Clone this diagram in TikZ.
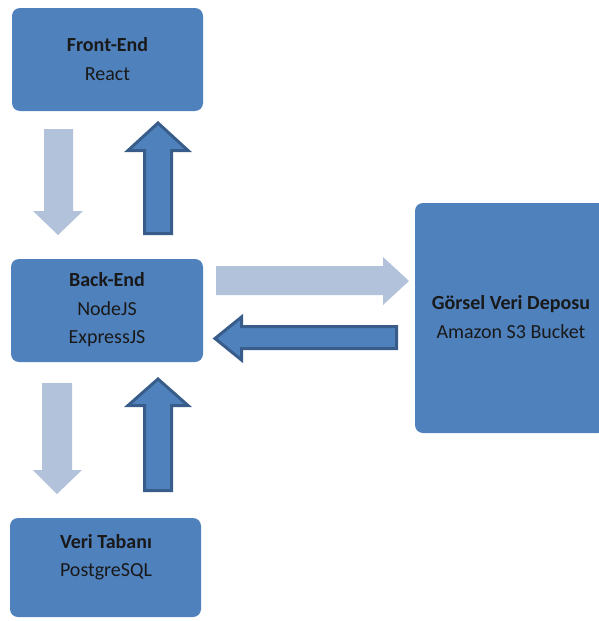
\documentclass[tikz,border=0pt]{standalone}
\usepackage{fontspec}
\setmainfont{Carlito}
\definecolor{boxblue}{HTML}{4F81BD}
\definecolor{lightarr}{HTML}{B3C2DB}
\definecolor{darkedge}{HTML}{385D8A}
\begin{document}
\begin{tikzpicture}[x=1pt,y=-1pt,
  box/.style={fill=boxblue, draw=none, rounded corners=8pt},
  lbl/.style={font=\fontsize{20}{28.5}\selectfont, text=black!90, align=center},
  larrow/.style={fill=lightarr, draw=none},
  darrow/.style={fill=boxblue, draw=darkedge, line width=3pt, line join=miter}]
\useasboundingbox (0,0) rectangle (598,621);
% boxes
\path[box] (12,8) rectangle (203,111);
\node[lbl] (fe) at (107.5,59) {\textbf{Front-End}\\React};
\path[box] (11,259) rectangle (203,362);
\node[lbl] (be) at (107,310) {\textbf{Back-End}\\NodeJS\\ExpressJS};
\path[box] (415,203) rectangle (606,433);
\node[lbl] (s3) at (511,317) {\textbf{Görsel Veri Deposu}\\Amazon S3 Bucket};
\path[box] (10,518) rectangle (201,617);
\node[lbl] (db) at (106,557) {\textbf{Veri Tabanı}\\PostgreSQL};
% arrows front/back
\fill[larrow] (44,129) -- (73,129) -- (73,211) -- (83,211) -- (58,235) -- (33,211) -- (44,211) -- cycle;
\draw[darrow] (144.5,233.5) -- (171.5,233.5) -- (171.5,150.5) -- (188,150.5) -- (158,123) -- (128,150.5) -- (144.5,150.5) -- cycle;
% arrows back/s3
\fill[larrow] (216,266) -- (383,266) -- (383,257) -- (409,281) -- (383,305) -- (383,295) -- (216,295) -- cycle;
\draw[darrow] (396.5,326.5) -- (241.5,326.5) -- (241.5,317) -- (215,338.5) -- (241.5,360) -- (241.5,348.5) -- (396.5,348.5) -- cycle;
% arrows back/db
\fill[larrow] (42,383) -- (72,383) -- (72,470) -- (82,470) -- (57,494) -- (33,470) -- (42,470) -- cycle;
\draw[darrow] (144.5,490.5) -- (171.5,490.5) -- (171.5,405.5) -- (188,405.5) -- (158,379) -- (128,405.5) -- (144.5,405.5) -- cycle;
\end{tikzpicture}
\end{document}
